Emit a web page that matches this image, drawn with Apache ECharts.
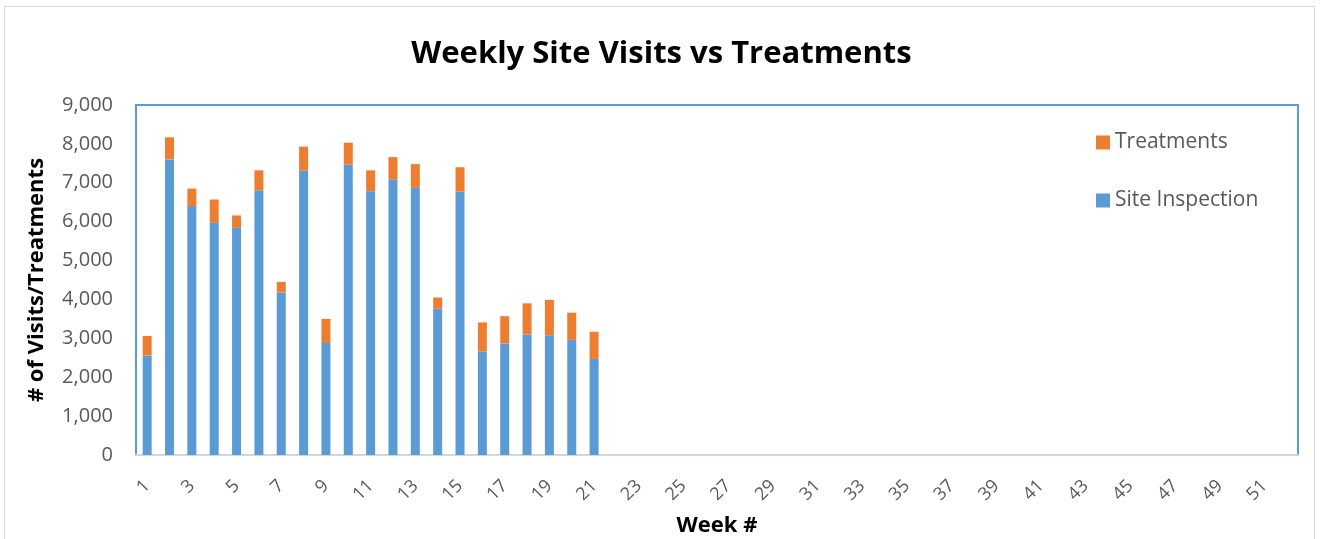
<!DOCTYPE html>
<html lang="en">
<head>
    <meta charset="UTF-8">
    <title>Weekly Site Visits vs Treatments</title>
    <script src="https://cdn.jsdelivr.net/npm/echarts@6/dist/echarts.min.js"></script>
    <style>
        html, body { margin: 0; padding: 0; background: #fff; }
        #frame { position: absolute; left: 4px; top: 6px; width: 1309px; height: 560px; border: 1px solid #d9d9d9; }
        #main { position: absolute; left: 0; top: 0; width: 1323px; height: 539px; }
    </style>
</head>
<body>
<div id="frame"></div>
<div id="main"></div>
<script type="text/javascript">
    // week numbers 1..52
    var weeks = [];
    for (var w = 1; w <= 52; w++) weeks.push(String(w));

    // values (weeks 1-21), later weeks empty
    var siteInspection = [2560, 7600, 6400, 5970, 5840, 6810, 4180, 7310, 2880, 7470,
        6780, 7090, 6870, 3760, 6770, 2660, 2870, 3100, 3080, 2960, 2470];
    var treatments = [500, 570, 450, 600, 320, 510, 270, 620, 620, 560,
        540, 570, 610, 290, 630, 750, 700, 800, 910, 700, 700];

    var myChart = echarts.init(document.getElementById('main'));
    var font = '"Open Sans", sans-serif';

    myChart.setOption({
        animation: false,
        title: {
            text: 'Weekly Site Visits vs Treatments',
            left: 'center',
            top: 34,
            textStyle: { fontFamily: font, fontSize: 31, fontWeight: 'bold', color: '#000' }
        },
        legend: {
            orient: 'vertical',
            left: 1091,
            top: 127,
            itemGap: 37,
            itemWidth: 14,
            itemHeight: 14,
            icon: 'rect',
            data: ['Treatments', 'Site Inspection'],
            textStyle: { fontFamily: font, fontSize: 21, color: '#595959' }
        },
        grid: {
            left: 136, right: 25, top: 105, bottom: 84,
            outerBoundsMode: 'none',
            containLabel: false,
            show: true,
            borderColor: '#5b9bd5',
            borderWidth: 2
        },
        xAxis: {
            type: 'category',
            data: weeks,
            name: 'Week #',
            nameLocation: 'middle',
            nameGap: 60,
            nameTextStyle: { fontFamily: font, fontSize: 22, fontWeight: 'bold', color: '#000' },
            axisLine: { lineStyle: { color: '#cfd8e0', width: 2 } },
            axisTick: { show: false },
            axisLabel: {
                interval: 1,
                rotate: 45,
                margin: 28,
                fontFamily: font, fontSize: 18, color: '#595959'
            }
        },
        yAxis: {
            type: 'value',
            min: 0,
            max: 9000,
            interval: 1000,
            name: '# of Visits/Treatments',
            nameLocation: 'middle',
            nameGap: 88,
            nameTextStyle: { fontFamily: font, fontSize: 22, fontWeight: 'bold', color: '#000' },
            axisLine: { show: false },
            axisTick: { show: false },
            splitLine: { show: false },
            axisLabel: {
                margin: 23,
                fontFamily: font, fontSize: 20, color: '#595959',
                formatter: function (v) { return v.toLocaleString('en-US'); }
            }
        },
        series: [{
            name: 'Site Inspection',
            type: 'bar',
            stack: 'total',
            barWidth: 9,
            data: siteInspection,
            itemStyle: { color: '#5b9bd5' }
        }, {
            name: 'Treatments',
            type: 'bar',
            stack: 'total',
            barWidth: 9,
            data: treatments,
            itemStyle: { color: '#ed7d31' }
        }]
    });
</script>
</body>
</html>
